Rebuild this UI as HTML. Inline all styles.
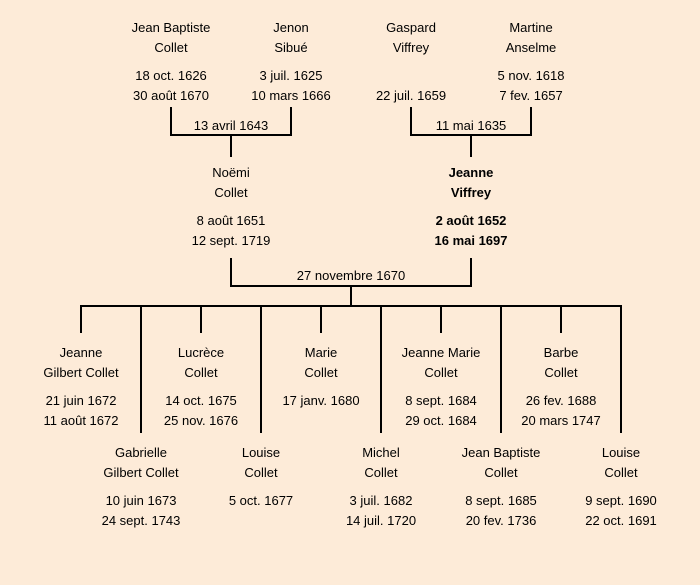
<!DOCTYPE html>
<html><head><meta charset="utf-8"><style>
html,body{margin:0;padding:0}
body{width:700px;height:585px;background:#fdebd8;position:relative;overflow:hidden;font-family:"Comic Sans MS","Liberation Sans",sans-serif;font-size:13px;color:#000}
.t{position:absolute;transform:translate(-50%,-50%);white-space:nowrap;line-height:14px;margin-top:1px}
.b{font-weight:bold}
svg{position:absolute;left:0;top:0}
</style></head><body>
<svg width="700" height="585" stroke="#000" stroke-width="2" fill="none">
<path d="M171 107V135H291V107M231 135V157"/>
<path d="M411 107V135H531V107M471 135V157"/>
<path d="M231 258V286H471V258M351 286V306"/>
<path d="M80 306H622"/>
<path d="M81 306V333M201 306V333M321 306V333M441 306V333M561 306V333"/>
<path d="M141 306V433M261 306V433M381 306V433M501 306V433M621 306V433"/>
</svg>
<div class="t" style="left:171px;top:27px">Jean Baptiste</div><div class="t" style="left:171px;top:47px">Collet</div>
<div class="t" style="left:171px;top:75px">18 oct. 1626</div><div class="t" style="left:171px;top:95px">30 août 1670</div>
<div class="t" style="left:291px;top:27px">Jenon</div><div class="t" style="left:291px;top:47px">Sibué</div>
<div class="t" style="left:291px;top:75px">3 juil. 1625</div><div class="t" style="left:291px;top:95px">10 mars 1666</div>
<div class="t" style="left:411px;top:27px">Gaspard</div><div class="t" style="left:411px;top:47px">Viffrey</div>
<div class="t" style="left:411px;top:95px">22 juil. 1659</div>
<div class="t" style="left:531px;top:27px">Martine</div><div class="t" style="left:531px;top:47px">Anselme</div>
<div class="t" style="left:531px;top:75px">5 nov. 1618</div><div class="t" style="left:531px;top:95px">7 fev. 1657</div>
<div class="t" style="left:231px;top:125px">13 avril 1643</div>
<div class="t" style="left:471px;top:125px">11 mai 1635</div>
<div class="t" style="left:231px;top:172px">Noëmi</div><div class="t" style="left:231px;top:192px">Collet</div>
<div class="t" style="left:231px;top:220px">8 août 1651</div><div class="t" style="left:231px;top:240px">12 sept. 1719</div>
<div class="t b" style="left:471px;top:172px">Jeanne</div><div class="t b" style="left:471px;top:192px">Viffrey</div>
<div class="t b" style="left:471px;top:220px">2 août 1652</div><div class="t b" style="left:471px;top:240px">16 mai 1697</div>
<div class="t" style="left:351px;top:275px">27 novembre 1670</div>
<div class="t" style="left:81px;top:352px">Jeanne</div><div class="t" style="left:81px;top:372px">Gilbert Collet</div>
<div class="t" style="left:81px;top:400px">21 juin 1672</div><div class="t" style="left:81px;top:420px">11 août 1672</div>
<div class="t" style="left:201px;top:352px">Lucrèce</div><div class="t" style="left:201px;top:372px">Collet</div>
<div class="t" style="left:201px;top:400px">14 oct. 1675</div><div class="t" style="left:201px;top:420px">25 nov. 1676</div>
<div class="t" style="left:321px;top:352px">Marie</div><div class="t" style="left:321px;top:372px">Collet</div>
<div class="t" style="left:321px;top:400px">17 janv. 1680</div>
<div class="t" style="left:441px;top:352px">Jeanne Marie</div><div class="t" style="left:441px;top:372px">Collet</div>
<div class="t" style="left:441px;top:400px">8 sept. 1684</div><div class="t" style="left:441px;top:420px">29 oct. 1684</div>
<div class="t" style="left:561px;top:352px">Barbe</div><div class="t" style="left:561px;top:372px">Collet</div>
<div class="t" style="left:561px;top:400px">26 fev. 1688</div><div class="t" style="left:561px;top:420px">20 mars 1747</div>
<div class="t" style="left:141px;top:452px">Gabrielle</div><div class="t" style="left:141px;top:472px">Gilbert Collet</div>
<div class="t" style="left:141px;top:500px">10 juin 1673</div><div class="t" style="left:141px;top:520px">24 sept. 1743</div>
<div class="t" style="left:261px;top:452px">Louise</div><div class="t" style="left:261px;top:472px">Collet</div>
<div class="t" style="left:261px;top:500px">5 oct. 1677</div>
<div class="t" style="left:381px;top:452px">Michel</div><div class="t" style="left:381px;top:472px">Collet</div>
<div class="t" style="left:381px;top:500px">3 juil. 1682</div><div class="t" style="left:381px;top:520px">14 juil. 1720</div>
<div class="t" style="left:501px;top:452px">Jean Baptiste</div><div class="t" style="left:501px;top:472px">Collet</div>
<div class="t" style="left:501px;top:500px">8 sept. 1685</div><div class="t" style="left:501px;top:520px">20 fev. 1736</div>
<div class="t" style="left:621px;top:452px">Louise</div><div class="t" style="left:621px;top:472px">Collet</div>
<div class="t" style="left:621px;top:500px">9 sept. 1690</div><div class="t" style="left:621px;top:520px">22 oct. 1691</div>
</body></html>
